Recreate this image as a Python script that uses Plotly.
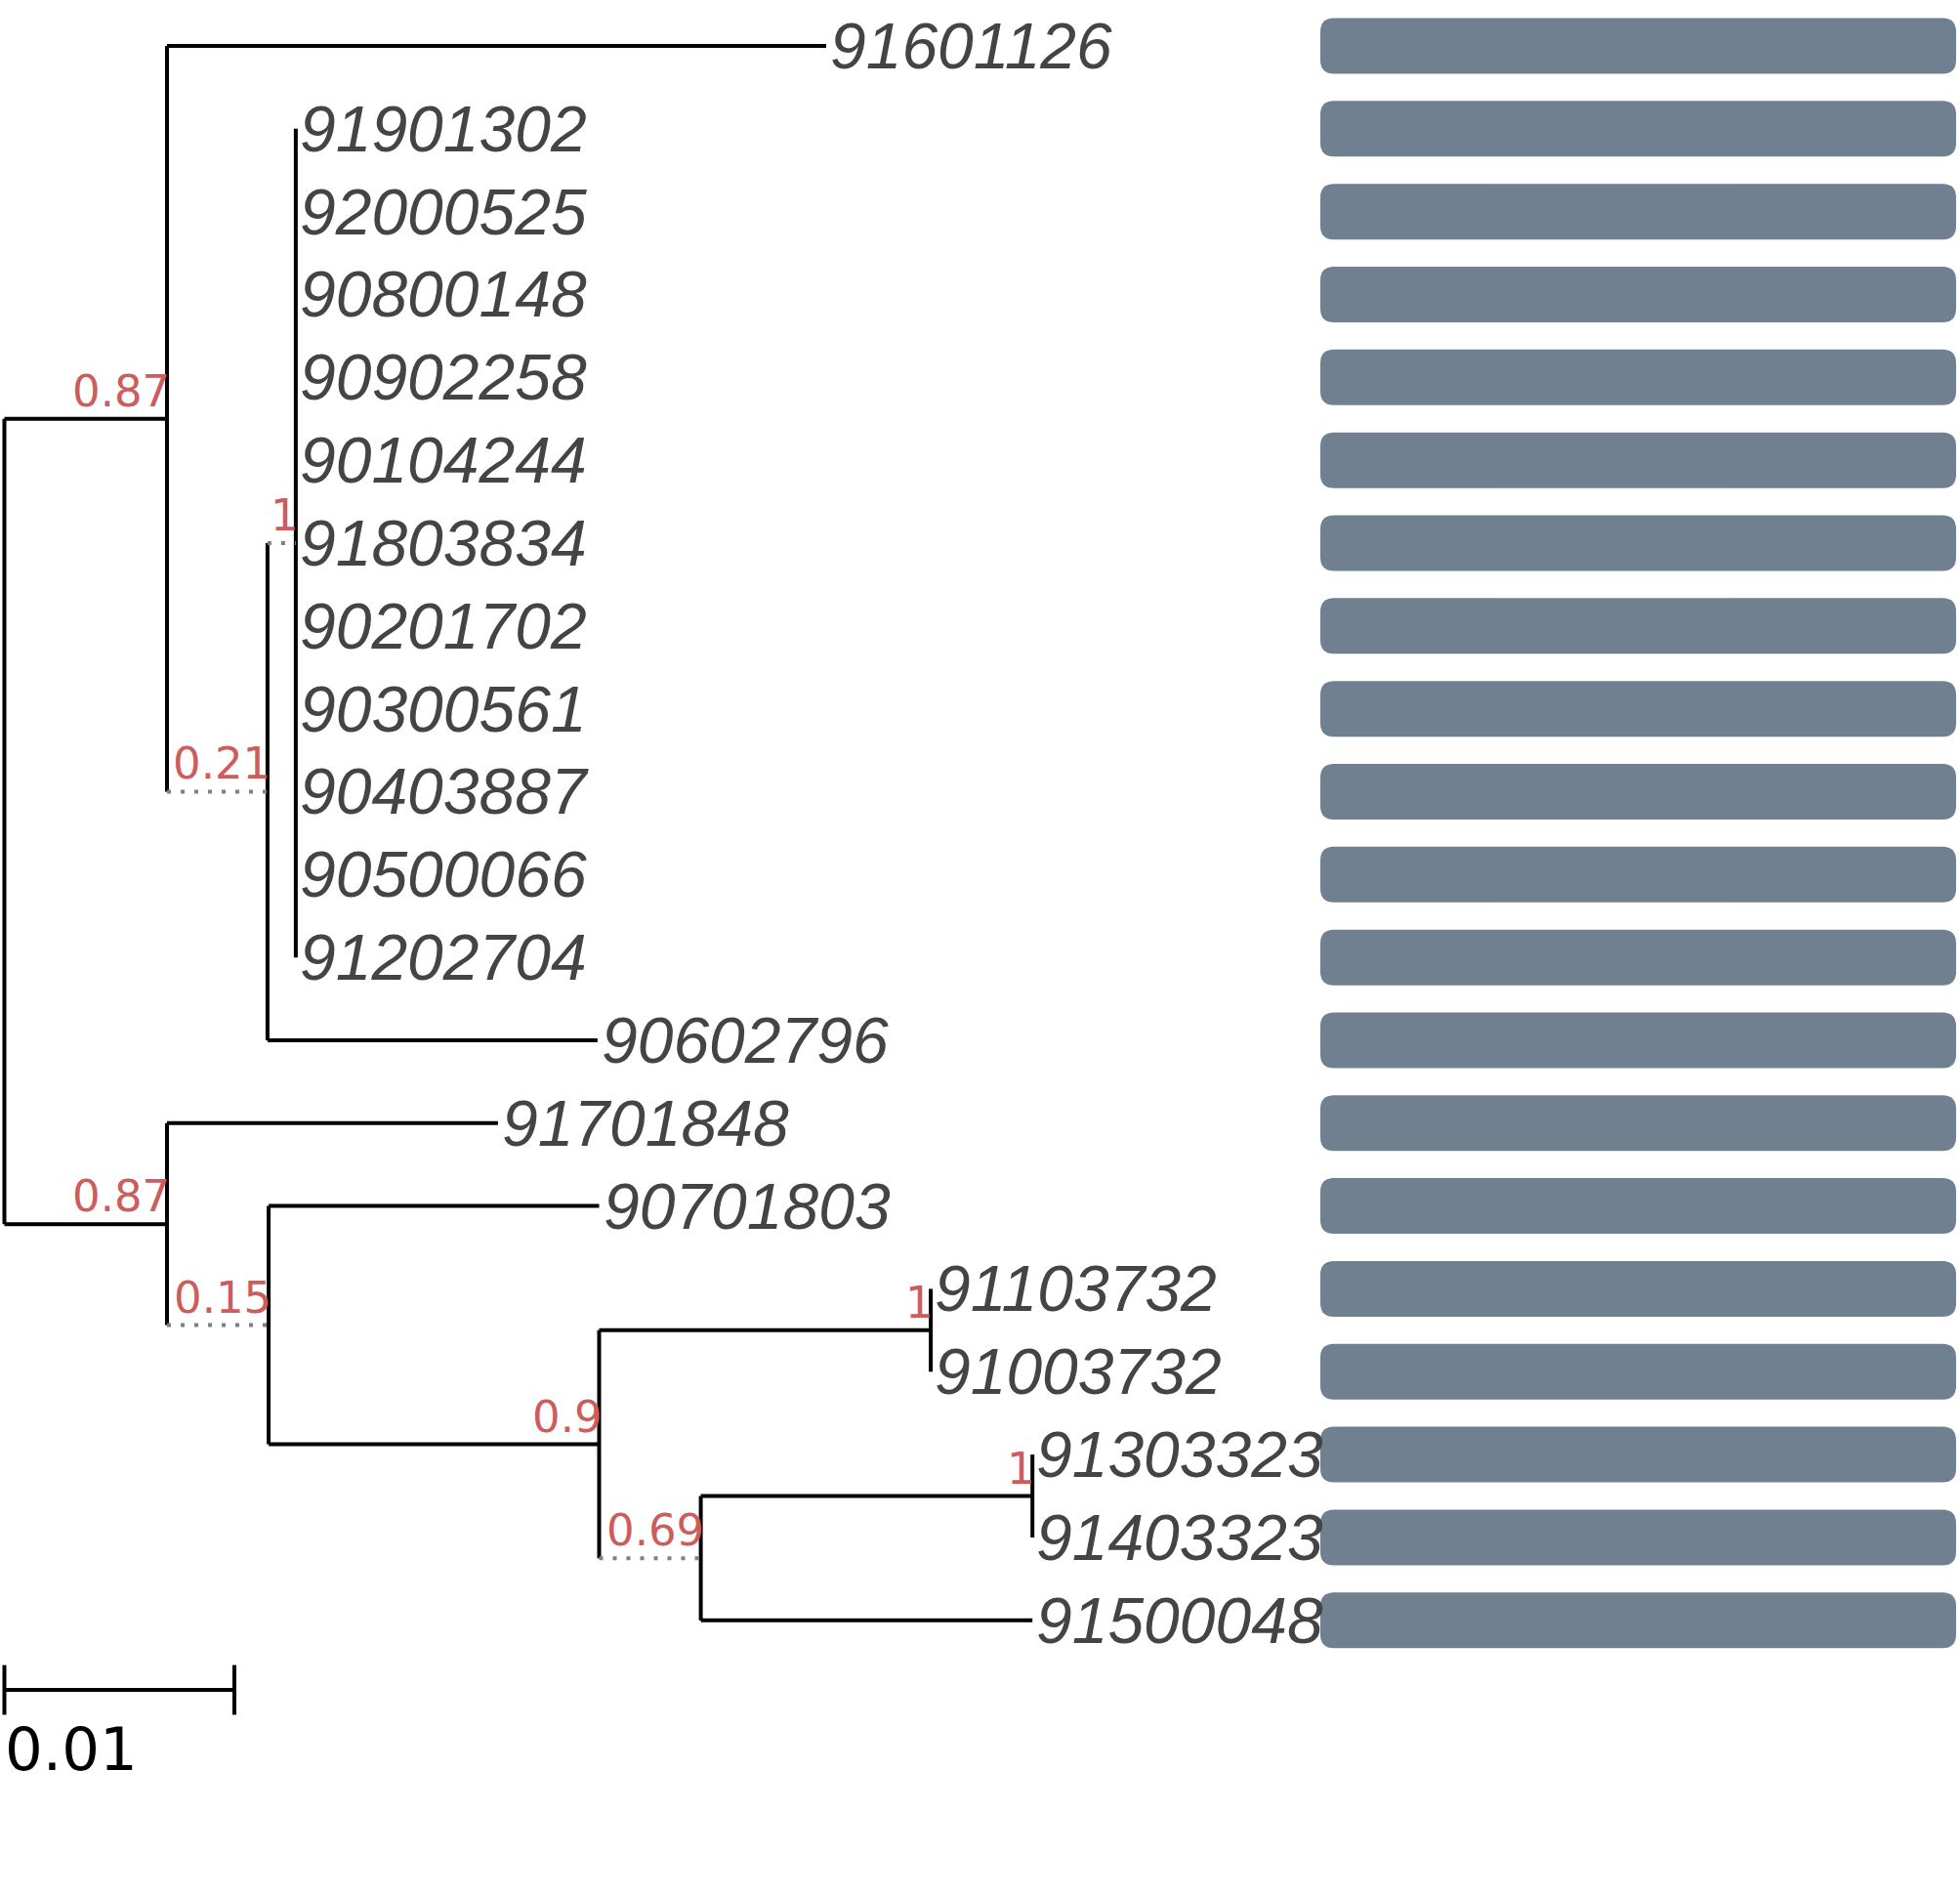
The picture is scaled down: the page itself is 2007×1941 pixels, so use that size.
import plotly.graph_objects as go

# tree: every node with its parent, branch length, support and branch style
# (children are listed top to bottom, parents before children)
node_name = ["root", "n1", "91601126", "n2", "n3",
             "91901302", "92000525", "90800148", "90902258", "90104244", "91803834",
             "90201702", "90300561", "90403887", "90500066", "91202704",
             "90602796", "n4", "91701848", "n5", "90701803", "n6", "n7",
             "91103732", "91003732", "n8", "n9", "91303323", "91403323", "91500048"]
node_parent = [None, "root", "n1", "n1", "n2",
               "n3", "n3", "n3", "n3", "n3", "n3",
               "n3", "n3", "n3", "n3", "n3",
               "n2", "root", "n4", "n4", "n5", "n5", "n6",
               "n7", "n7", "n6", "n8", "n9", "n9", "n8"]
branch_length = [0.0, 0.00707, 0.02866, 0.00437, 0.00123,
                 0.0, 0.0, 0.0, 0.0, 0.0, 0.0,
                 0.0, 0.0, 0.0, 0.0, 0.0,
                 0.01435, 0.00707, 0.01439, 0.00442, 0.01437, 0.01437, 0.01442,
                 0.0, 0.0, 0.00442, 0.01442, 0.0, 0.0, 0.01442]
support = [None, 0.87, None, 0.21, 1,
           None, None, None, None, None, None,
           None, None, None, None, None,
           None, 0.87, None, 0.15, None, 0.9, 1,
           None, None, 0.69, 1, None, None, None]
dotted_branch = [False, False, False, True, True,
                 False, False, False, False, False, False,
                 False, False, False, False, False,
                 False, False, False, True, False, False, False,
                 False, False, True, False, False, False, False]

# one bar per leaf, all of the same length
bar_value = [1, 1, 1, 1, 1, 1, 1, 1, 1, 1, 1, 1, 1, 1, 1, 1, 1, 1, 1, 1]

scale_length = 0.01

# ---- layout of the tree (x = distance from root, y = row) ----
children = {n: [] for n in node_name}
for n, p in zip(node_name, node_parent):
    if p is not None:
        children[p].append(n)
blen = dict(zip(node_name, branch_length))
parent = dict(zip(node_name, node_parent))

xpos, ypos, leaves = {}, {}, []


def place(n, x):
    xpos[n] = x
    if not children[n]:
        ypos[n] = len(leaves)
        leaves.append(n)
        return
    for c in children[n]:
        place(c, x + blen[c])
    ypos[n] = (ypos[children[n][0]] + ypos[children[n][-1]]) / 2


place("root", 0.0)

sx, sy, dx, dy = [], [], [], []
for n, dot in zip(node_name, dotted_branch):
    p = parent[n]
    if p is not None and blen[n] > 0:
        if dot:
            dx += [xpos[p], xpos[n], None]
            dy += [ypos[n], ypos[n], None]
        else:
            sx += [xpos[p], xpos[n], None]
            sy += [ypos[n], ypos[n], None]
    if children[n]:
        sx += [xpos[n], xpos[n], None]
        sy += [ypos[children[n][0]], ypos[children[n][-1]], None]

W, H = 2007, 1941
x0_px = 4.5          # pixel of the root
px_per_unit = 23550  # 0.01 -> 235.5 px
row_px = 84.83
row0_px = 47
bar_left_px, bar_right_px = 1352, 2003
lw = 4

fig = go.Figure()
fig.add_trace(go.Scatter(x=sx, y=sy, mode="lines", line=dict(color="black", width=lw),
                         hoverinfo="skip"))
fig.add_trace(go.Scatter(x=dx, y=dy, mode="lines",
                         line=dict(color="#808080", width=lw, dash="4px,10px"),
                         hoverinfo="skip"))

# scale bar
ys = len(leaves) - 1 + 0.84
tk = 0.3
fig.add_trace(go.Scatter(x=[0, scale_length, None, 0, 0, None, scale_length, scale_length],
                         y=[ys, ys, None, ys - tk, ys + tk, None, ys - tk, ys + tk],
                         mode="lines", line=dict(color="black", width=lw), hoverinfo="skip"))
fig.add_annotation(x=0, y=ys, text=f"{scale_length:g}", showarrow=False, xanchor="left",
                   yanchor="top", xshift=-2, yshift=-23,
                   font=dict(family="DejaVu Sans", size=61, color="black"))

# leaf labels
for n in leaves:
    fig.add_annotation(x=xpos[n], y=ypos[n], text=n, showarrow=False, xanchor="left",
                       yanchor="middle", xshift=2,
                       font=dict(family="Liberation Sans", size=66, color="#444444",
                                 style="italic"))

# support values
for n, s in zip(node_name, support):
    if s is not None:
        fig.add_annotation(x=xpos[n], y=ypos[n], text=f"{s:g}", showarrow=False,
                           xanchor="right", yanchor="bottom", xshift=5, yshift=0,
                           font=dict(family="DejaVu Sans", size=45, color="#cd5c5c"))

# rounded bars on their own x axis
bx_unit = bar_right_px - bar_left_px
rx = 14 / bx_unit
ry = 14 / row_px
hh = 28.5 / row_px
fig.add_trace(go.Scatter(x=[v / 2 for v in bar_value], y=[ypos[n] for n in leaves],
                         xaxis="x2", mode="markers", marker=dict(opacity=0),
                         hoverinfo="skip"))
for n, v in zip(leaves, bar_value):
    yc = ypos[n]
    a, b = 0, v
    path = (f"M {a + rx},{yc - hh} L {b - rx},{yc - hh} Q {b},{yc - hh} {b},{yc - hh + ry} "
            f"L {b},{yc + hh - ry} Q {b},{yc + hh} {b - rx},{yc + hh} "
            f"L {a + rx},{yc + hh} Q {a},{yc + hh} {a},{yc + hh - ry} "
            f"L {a},{yc - hh + ry} Q {a},{yc - hh} {a + rx},{yc - hh} Z")
    fig.add_shape(type="path", path=path, xref="x2", yref="y",
                  fillcolor="#708090", line=dict(width=0), layer="below")

fig.update_layout(
    width=W, height=H,
    margin=dict(l=0, r=0, t=0, b=0),
    paper_bgcolor="white", plot_bgcolor="white",
    showlegend=False,
    xaxis=dict(range=[-x0_px / px_per_unit, (W - x0_px) / px_per_unit], visible=False),
    xaxis2=dict(range=[-bar_left_px / bx_unit, (W - bar_left_px) / bx_unit],
                overlaying="x", anchor="y", visible=False),
    yaxis=dict(range=[(H - row0_px) / row_px, -row0_px / row_px], visible=False),
)

# the page's default body margin would shift the figure by 8px
fig.write_html("out.html", config={"displayModeBar": False},
               post_script="document.body.style.margin = '0';")
